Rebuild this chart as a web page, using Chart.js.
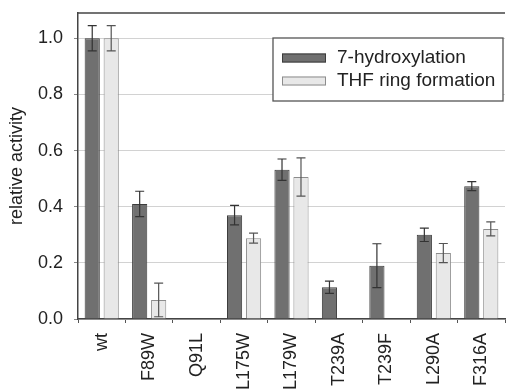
<!DOCTYPE html>
<html>
<head>
<meta charset="utf-8">
<script src="https://cdn.jsdelivr.net/npm/chart.js@4/dist/chart.umd.min.js"></script>
<style>
  html, body { margin: 0; padding: 0; background: #fff; }
  #wrap { width: 506px; height: 392px; }
</style>
</head>
<body>
<div id="wrap"><canvas id="chart" width="506" height="392"></canvas></div>
<script>
// --- DATOS ---
const categories = ['wt', 'F89W', 'Q91L', 'L175W', 'L179W', 'T239A', 'T239F', 'L290A', 'F316A'];
const hydroxylation = [1.0, 0.41, null, 0.37, 0.532, 0.113, 0.19, 0.30, 0.473];
const hydroxylationErr = [0.045, 0.045, null, 0.035, 0.038, 0.022, 0.078, 0.024, 0.016];
const thfRing = [1.0, 0.068, null, 0.288, 0.506, null, null, 0.235, 0.321];
const thfRingErr = [0.045, 0.06, null, 0.018, 0.068, null, null, 0.034, 0.025];
const yTicks = [0, 0.2, 0.4, 0.6, 0.8, 1.0];

const FONT = '"Liberation Sans", Arial, sans-serif';

// --- BARRAS DE ERROR ---
const errorBars = {
  id: 'errorBars',
  afterDatasetsDraw(chart) {
    const ctx = chart.ctx;
    const y = chart.scales.y;
    chart.data.datasets.forEach((ds, i) => {
      const meta = chart.getDatasetMeta(i);
      ctx.save();
      ctx.strokeStyle = ds.errColor;
      ctx.lineWidth = 1.2;
      meta.data.forEach((bar, j) => {
        const v = ds.data[j];
        const e = ds.errors[j];
        if (v == null || e == null) return;
        const top = y.getPixelForValue(v + e);
        const bot = y.getPixelForValue(v - e);
        const cap = 4.5;
        ctx.beginPath();
        ctx.moveTo(bar.x, top); ctx.lineTo(bar.x, bot);
        ctx.moveTo(bar.x - cap, top); ctx.lineTo(bar.x + cap, top);
        ctx.moveTo(bar.x - cap, bot); ctx.lineTo(bar.x + cap, bot);
        ctx.stroke();
      });
      ctx.restore();
    });
  }
};

// --- MARCO SUPERIOR Y LEYENDA ---
const frameLegend = {
  id: 'frameLegend',
  afterDraw(chart) {
    const ctx = chart.ctx;
    const a = chart.chartArea;
    ctx.save();
    ctx.strokeStyle = '#444';
    ctx.lineWidth = 1.5;
    ctx.beginPath();
    ctx.moveTo(a.left, a.top);
    ctx.lineTo(a.right, a.top);
    ctx.stroke();

    // caja de la leyenda
    const bx = 273, by = 38, bw = 230, bh = 63;
    ctx.fillStyle = '#fff';
    ctx.fillRect(bx, by, bw, bh);
    ctx.strokeStyle = '#555';
    ctx.lineWidth = 1.3;
    ctx.strokeRect(bx, by, bw, bh);

    ctx.font = '19px ' + FONT;
    ctx.textBaseline = 'middle';
    chart.data.datasets.forEach((ds, i) => {
      const cy = 58 + i * 23;
      ctx.fillStyle = ds.backgroundColor;
      ctx.strokeStyle = ds.borderColor;
      ctx.lineWidth = 1;
      ctx.fillRect(282, cy - 4.5, 44, 9);
      ctx.strokeRect(282.5, cy - 4, 43, 8);
      ctx.fillStyle = '#222';
      ctx.fillText(ds.label, 337, cy);
    });
    ctx.restore();
  }
};

new Chart(document.getElementById('chart'), {
  type: 'bar',
  data: {
    labels: categories,
    datasets: [
      {
        label: '7-hydroxylation',
        data: hydroxylation,
        errors: hydroxylationErr,
        backgroundColor: '#707070',
        borderColor: '#3c3c3c',
        errColor: '#333',
        borderWidth: 1
      },
      {
        label: 'THF ring formation',
        data: thfRing,
        errors: thfRingErr,
        backgroundColor: '#e8e8e8',
        borderColor: '#8c8c8c',
        errColor: '#555',
        borderWidth: 1
      }
    ]
  },
  options: {
    responsive: false,
    animation: false,
    layout: { padding: { top: 13, right: 1, bottom: 0, left: 0 } },
    categoryPercentage: 0.8,
    barPercentage: 0.8,
    plugins: { legend: { display: false }, tooltip: { enabled: false } },
    scales: {
      x: {
        grid: { drawOnChartArea: false, drawTicks: true, tickLength: 4, color: '#555' },
        border: { color: '#444', width: 1.5 },
        ticks: {
          minRotation: 90, maxRotation: 90, padding: 10,
          color: '#222', font: { family: FONT, size: 18 }
        },
        afterFit(scale) {
          scale.height = 73;
          scale.paddingLeft = 0;
          scale.paddingRight = 0;
        }
      },
      y: {
        min: 0,
        max: 1.09,
        afterBuildTicks(scale) {
          scale.ticks = yTicks.map(v => ({ value: v }));
        },
        grid: { color: '#d2d2d2', tickColor: '#888', tickLength: 4, lineWidth: 1 },
        border: { color: '#444', width: 1.5 },
        ticks: {
          padding: 11, color: '#222', font: { family: FONT, size: 18 },
          callback: v => v.toFixed(1)
        },
        title: {
          display: true, text: 'relative activity', color: '#222',
          font: { family: FONT, size: 18 }, padding: { top: 6, bottom: 0 }
        },
        afterFit(scale) {
          scale.width = 78;
          scale.paddingTop = 0;
          scale.paddingBottom = 0;
        }
      }
    }
  },
  plugins: [errorBars, frameLegend]
});
</script>
</body>
</html>
